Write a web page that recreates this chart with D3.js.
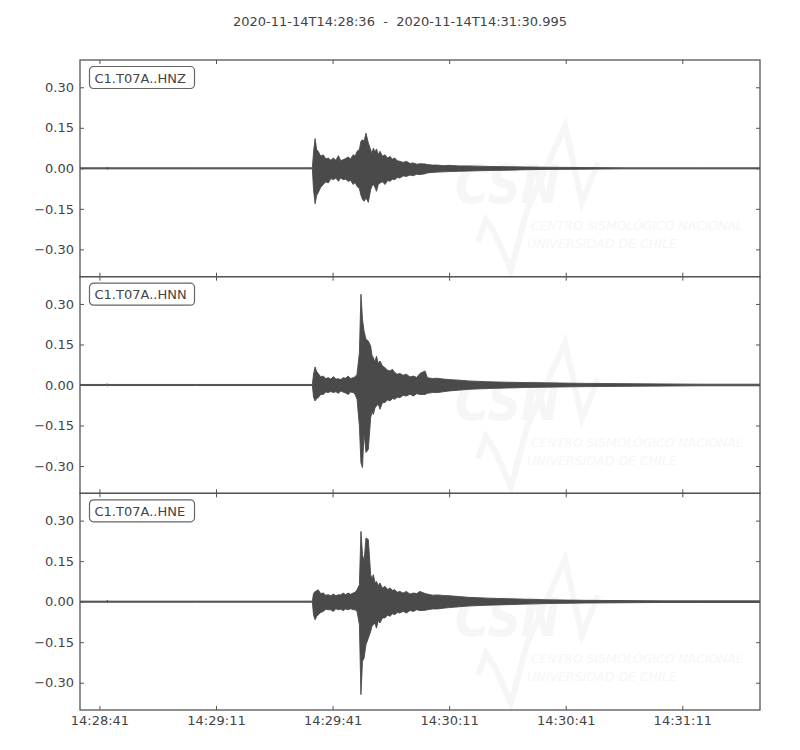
<!DOCTYPE html>
<html>
<head>
<meta charset="utf-8">
<script src="https://cdn.jsdelivr.net/npm/d3@7/dist/d3.min.js"></script>
<style>
    body { margin: 0; background: #fff; }
    text { font-family: "DejaVu Sans", sans-serif; }
</style>
</head>
<body>
<svg id="chart" width="800" height="750"></svg>
<script>
// trace info
const titleText = "2020-11-14T14:28:36  -  2020-11-14T14:31:30.995";
const channels = ["C1.T07A..HNZ", "C1.T07A..HNN", "C1.T07A..HNE"];

// seconds after 14:28:36, min/max envelope
const times = [0, 6.8, 7, 7.2, 30, 59.8,
    60.1, 60.5, 60.9, 61.3, 61.95, 62.6, 63.25, 63.9, 64.55, 65.2,
    65.85, 66.5, 67.1, 67.7, 68.35, 69, 69.65, 70.3, 70.8, 71.3,
    71.9, 72.3, 72.7, 73.1, 73.6, 74.2, 74.8, 75.15, 75.5, 75.9,
    76.3, 76.75, 77.2, 77.85, 78.5, 79.15, 79.8, 80.4, 81, 81.65,
    82.3, 83.15, 84, 84.9, 85.8, 86.65, 87.5, 88.8, 89.4, 90.7,
    92, 93.5, 95, 97.5, 100, 105, 110, 115, 120, 130,
    140, 150, 160, 175];

const hnzUp = [0.002, 0.002, 0.005, 0.002, 0.002, 0.002,
    0.06, 0.11, 0.07, 0.063, 0.045, 0.05, 0.035, 0.038, 0.03, 0.038,
    0.03, 0.047, 0.028, 0.032, 0.036, 0.042, 0.035, 0.05, 0.045, 0.063,
    0.07, 0.1, 0.106, 0.1, 0.13, 0.094, 0.069, 0.055, 0.075, 0.06,
    0.072, 0.05, 0.063, 0.045, 0.05, 0.038, 0.044, 0.034, 0.038, 0.028,
    0.026, 0.022, 0.026, 0.018, 0.02, 0.015, 0.017, 0.016, 0.014, 0.012,
    0.012, 0.01, 0.011, 0.009, 0.009, 0.007, 0.006, 0.005, 0.004, 0.003,
    0.002, 0.002, 0.002, 0.002];
const hnzLo = [-0.002, -0.002, -0.004, -0.002, -0.002, -0.002,
    -0.08, -0.131, -0.1, -0.09, -0.07, -0.06, -0.05, -0.054, -0.038, -0.042,
    -0.036, -0.048, -0.035, -0.042, -0.04, -0.048, -0.045, -0.06, -0.052, -0.067,
    -0.075, -0.1, -0.115, -0.122, -0.11, -0.126, -0.079, -0.065, -0.06, -0.07,
    -0.085, -0.06, -0.054, -0.05, -0.06, -0.045, -0.048, -0.04, -0.042, -0.034,
    -0.036, -0.028, -0.03, -0.025, -0.027, -0.022, -0.023, -0.02, -0.017, -0.015,
    -0.014, -0.013, -0.012, -0.011, -0.01, -0.008, -0.007, -0.005, -0.004, -0.003,
    -0.002, -0.002, -0.002, -0.002];

const hnnUp = [0.002, 0.002, 0.005, 0.002, 0.002, 0.002,
    0.04, 0.067, 0.05, 0.043, 0.03, 0.033, 0.024, 0.027, 0.022, 0.031,
    0.022, 0.023, 0.02, 0.027, 0.025, 0.033, 0.024, 0.027, 0.03, 0.04,
    0.12, 0.336, 0.243, 0.2, 0.169, 0.163, 0.144, 0.11, 0.101, 0.085,
    0.107, 0.08, 0.089, 0.07, 0.064, 0.055, 0.052, 0.058, 0.046, 0.04,
    0.043, 0.036, 0.04, 0.03, 0.033, 0.028, 0.043, 0.052, 0.027, 0.024,
    0.025, 0.022, 0.02, 0.018, 0.015, 0.012, 0.01, 0.009, 0.008, 0.006,
    0.005, 0.004, 0.003, 0.003];
const hnnLo = [-0.002, -0.002, -0.004, -0.002, -0.002, -0.002,
    -0.045, -0.059, -0.05, -0.047, -0.035, -0.035, -0.026, -0.028, -0.024, -0.028,
    -0.025, -0.031, -0.022, -0.026, -0.03, -0.035, -0.026, -0.028, -0.035, -0.053,
    -0.152, -0.288, -0.306, -0.177, -0.25, -0.238, -0.121, -0.1, -0.109, -0.085,
    -0.078, -0.07, -0.09, -0.065, -0.065, -0.055, -0.059, -0.05, -0.053, -0.045,
    -0.047, -0.038, -0.041, -0.034, -0.041, -0.032, -0.035, -0.035, -0.031, -0.028,
    -0.028, -0.025, -0.022, -0.019, -0.016, -0.013, -0.011, -0.009, -0.008, -0.006,
    -0.005, -0.004, -0.003, -0.003];

const hneUp = [0.002, 0.002, 0.005, 0.002, 0.002, 0.002,
    0.03, 0.038, 0.04, 0.044, 0.03, 0.032, 0.024, 0.026, 0.022, 0.028,
    0.022, 0.026, 0.025, 0.032, 0.026, 0.032, 0.027, 0.032, 0.035, 0.044,
    0.063, 0.26, 0.174, 0.149, 0.236, 0.23, 0.1, 0.085, 0.1, 0.07,
    0.075, 0.06, 0.069, 0.05, 0.057, 0.045, 0.051, 0.042, 0.044, 0.035,
    0.038, 0.032, 0.038, 0.028, 0.032, 0.03, 0.038, 0.03, 0.028, 0.024,
    0.025, 0.023, 0.022, 0.019, 0.016, 0.013, 0.011, 0.009, 0.007, 0.005,
    0.004, 0.003, 0.003, 0.003];
const hneLo = [-0.002, -0.002, -0.004, -0.002, -0.002, -0.002,
    -0.05, -0.067, -0.055, -0.048, -0.04, -0.036, -0.028, -0.03, -0.03, -0.036,
    -0.026, -0.03, -0.028, -0.033, -0.027, -0.03, -0.026, -0.03, -0.03, -0.036,
    -0.085, -0.344, -0.221, -0.209, -0.159, -0.135, -0.11, -0.09, -0.085, -0.08,
    -0.098, -0.07, -0.079, -0.06, -0.06, -0.05, -0.054, -0.045, -0.048, -0.04,
    -0.042, -0.036, -0.042, -0.033, -0.036, -0.03, -0.033, -0.032, -0.03, -0.027,
    -0.027, -0.024, -0.022, -0.019, -0.016, -0.013, -0.011, -0.009, -0.007, -0.005,
    -0.004, -0.003, -0.003, -0.003];

const yTicks = [0.30, 0.15, 0.00, -0.15, -0.30];
const xTickSeconds = [5, 35, 65, 95, 125, 155];
const watermarkLines = ["CENTRO SISMOLÓGICO NACIONAL", "UNIVERSIDAD DE CHILE"];

const traces = [
    {up: hnzUp, lo: hnzLo},
    {up: hnnUp, lo: hnnLo},
    {up: hneUp, lo: hneLo}
];

const plotLeft = 80, plotRight = 760, plotTop = 60, plotBottom = 710;
const ph = (plotBottom - plotTop) / 3;
const textCol = "#444", axisCol = "#555", waveCol = "#4a4a4a";

const t0 = Date.UTC(2020, 10, 14, 14, 28, 36);
const toDate = s => new Date(t0 + s * 1000);

let svg = d3.select("#chart");

let x = d3.scaleUtc()
    .domain([toDate(0), toDate(174.995)])
    .range([plotLeft, plotRight]);

let y = d3.scaleLinear()
    .domain([-0.401, 0.401])
    .range([ph, 0]);

svg.append("text")
    .attr("x", 400)
    .attr("y", 26)
    .attr("text-anchor", "middle")
    .style("font-size", "13px")
    .style("white-space", "pre")
    .style("fill", textCol)
    .text(titleText);

svg.append("defs")
    .append("clipPath")
    .attr("id", "panelClip")
    .append("rect")
    .attr("x", plotLeft)
    .attr("y", 0)
    .attr("width", plotRight - plotLeft)
    .attr("height", ph);

let area = d3.area()
    .x(d => x(toDate(d.t)))
    .y0(d => y(d.lo))
    .y1(d => y(d.up));

for (let i = 0; i < 3; i++) {

    let panel = svg.append("g")
        .attr("transform", "translate(0," + (plotTop + i * ph) + ")");

    // faint CSN watermark
    let wm = panel.append("g")
        .attr("transform", "translate(" + plotLeft + ",0)");

    wm.append("polyline")
        .attr("points", "398,182 406,160 415,174 431,210 447,150 485,66 502,142 518,102")
        .style("fill", "none")
        .style("stroke", "#f6f6f6")
        .style("stroke-width", 6)
        .style("stroke-linejoin", "miter");

    wm.append("text")
        .attr("x", 375)
        .attr("y", 143)
        .attr("textLength", 105)
        .attr("lengthAdjust", "spacingAndGlyphs")
        .style("font-size", "54px")
        .style("font-weight", "bold")
        .style("font-style", "italic")
        .style("fill", "#f6f6f6")
        .text("CSN");

    watermarkLines.forEach((s, k) => {
        wm.append("text")
            .attr("x", k === 0 ? 451 : 447)
            .attr("y", 170 + k * 18)
            .attr("textLength", k === 0 ? 212 : 150)
            .attr("lengthAdjust", "spacingAndGlyphs")
            .style("font-size", "13px")
            .style("font-style", "italic")
            .style("fill", "#f6f6f6")
            .text(s);
    });

    // waveform envelope
    let data = times.map((t, j) => ({t: t, up: traces[i].up[j], lo: traces[i].lo[j]}));

    panel.append("path")
        .datum(data)
        .attr("clip-path", "url(#panelClip)")
        .attr("d", area)
        .style("fill", waveCol)
        .style("stroke", waveCol)
        .style("stroke-width", 0.9)
        .style("stroke-linejoin", "miter");

    // axes, ticks inward on all four sides
    let yl = panel.append("g")
        .attr("transform", "translate(" + plotLeft + ",0)")
        .call(d3.axisLeft(y).tickValues(yTicks).tickSizeInner(-4).tickSizeOuter(0)
            .tickPadding(6).tickFormat(d3.format(".2f")));
    let yr = panel.append("g")
        .attr("transform", "translate(" + plotRight + ",0)")
        .call(d3.axisRight(y).tickValues(yTicks).tickSizeInner(-4).tickSizeOuter(0).tickFormat(""));
    let xt = panel.append("g")
        .call(d3.axisTop(x).tickValues(xTickSeconds.map(toDate)).tickSizeInner(-4).tickSizeOuter(0).tickFormat(""));
    let xb = panel.append("g")
        .attr("transform", "translate(0," + ph + ")")
        .call(d3.axisBottom(x).tickValues(xTickSeconds.map(toDate)).tickSizeInner(-4).tickSizeOuter(0)
            .tickPadding(6).tickFormat(i === 2 ? d3.utcFormat("%H:%M:%S") : ""));

    [yl, yr, xt, xb].forEach(a => {
        a.select(".domain").remove();
        a.selectAll("line").style("stroke", axisCol).style("stroke-width", 1);
        a.selectAll("text").style("fill", textCol).style("font-size", "13px")
            .style("font-family", "'DejaVu Sans', sans-serif");
    });

    panel.append("rect")
        .attr("x", plotLeft)
        .attr("y", 0)
        .attr("width", plotRight - plotLeft)
        .attr("height", ph)
        .style("fill", "none")
        .style("stroke", axisCol)
        .style("stroke-width", 1.3);

    // channel label box
    let lbl = panel.append("g")
        .attr("transform", "translate(" + (plotLeft + 9.5) + ",6.5)");
    lbl.append("rect")
        .attr("width", 105)
        .attr("height", 22)
        .attr("rx", 4)
        .style("fill", "#fff")
        .style("stroke", "#666")
        .style("stroke-width", 1.2);
    lbl.append("text")
        .attr("x", 5)
        .attr("y", 16)
        .style("font-size", "13px")
        .style("fill", textCol)
        .text(channels[i]);
}
</script>
</body>
</html>
